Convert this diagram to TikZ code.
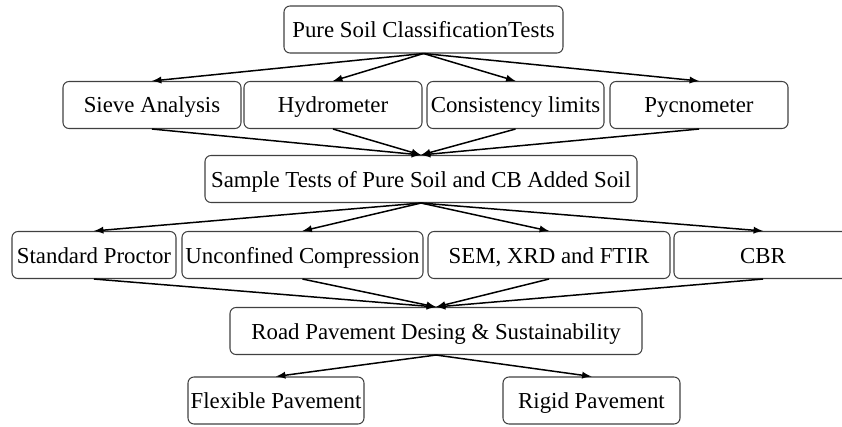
\documentclass[tikz,border=0pt]{standalone}
\usepackage{fontspec}
\setmainfont{Liberation Serif}
\newfontfamily\boxfont{Liberation Serif}
\usepackage{tikz}
\usetikzlibrary{positioning}

\tikzset{
  testbox/.style={draw=black!75, line width=0.6pt, rounded corners=0.12cm,
    minimum height=0.94cm, inner sep=0pt, text height=0.38cm, text depth=0.06cm,
    font=\boxfont\fontsize{13}{15}\selectfont}
}

\begin{document}
\begin{tikzpicture}[>=latex, line width=0.85pt]
        \useasboundingbox (0,0) rectangle (16.84,-8.52);
        \clip (0,0) rectangle (16.84,-8.52);

        % classification tests
        \node[testbox, minimum width=5.58cm] (pure)    at (8.47,-0.59) {Pure Soil ClassificationTests};
        \node[testbox, minimum width=3.56cm] (sieve)   at (3.04,-2.10) {Sieve Analysis};
        \node[testbox, minimum width=3.56cm] (hydro)   at (6.66,-2.10) {Hydrometer};
        \node[testbox, minimum width=3.54cm] (consist) at (10.31,-2.10) {Consistency limits};
        \node[testbox, minimum width=3.56cm] (pycno)   at (13.98,-2.10) {Pycnometer};

        % sample tests
        \node[testbox, minimum width=8.64cm] (sample)  at (8.42,-3.58) {Sample Tests of Pure Soil and CB Added Soil};
        \node[testbox, minimum width=3.28cm] (proctor) at (1.88,-5.10) {Standard Proctor};
        \node[testbox, minimum width=4.82cm] (ucs)     at (6.05,-5.10) {Unconfined Compression};
        \node[testbox, minimum width=4.84cm] (sem)     at (10.98,-5.10) {SEM, XRD and FTIR};
        \node[testbox, minimum width=3.56cm] (cbr)     at (15.26,-5.10) {CBR};

        % pavement
        \node[testbox, minimum width=8.24cm] (road)    at (8.72,-6.62) {Road Pavement Desing \& Sustainability};
        \node[testbox, minimum width=3.52cm] (flex)    at (5.52,-8.01) {Flexible Pavement};
        \node[testbox, minimum width=3.54cm] (rigid)   at (11.83,-8.01) {Rigid Pavement};

        \path[->] (pure.south)    edge (sieve.north)
                  (pure.south)    edge (hydro.north)
                  (pure.south)    edge (consist.north)
                  (pure.south)    edge (pycno.north)
                  (sieve.south)   edge (sample.north)
                  (hydro.south)   edge (sample.north)
                  (consist.south) edge (sample.north)
                  (pycno.south)   edge (sample.north);

        \path[->] (sample.south)  edge (proctor.north)
                  (sample.south)  edge (ucs.north)
                  (sample.south)  edge (sem.north)
                  (sample.south)  edge (cbr.north)
                  (proctor.south) edge (road.north)
                  (ucs.south)     edge (road.north)
                  (sem.south)     edge (road.north)
                  (cbr.south)     edge (road.north);

        \path[->] (road.south)    edge (flex.north)
                  (road.south)    edge (rigid.north);
    \end{tikzpicture}
\end{document}
